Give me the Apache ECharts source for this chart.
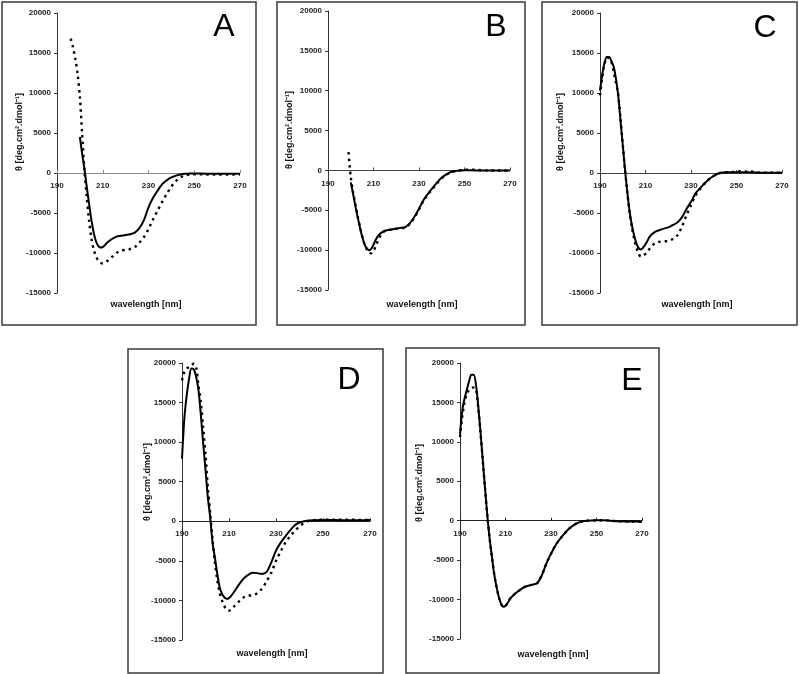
<!DOCTYPE html>
<html>
<head>
<meta charset="utf-8">
<script src="https://cdn.jsdelivr.net/npm/echarts@6/dist/echarts.min.js"></script>
<style>
html,body{margin:0;padding:0;background:#fff;}
#c{width:800px;height:674px;}
</style>
</head>
<body>
<div id="c"></div>
<script>
// ---- tick labels / axis ----
var xTicks = [190, 210, 230, 250, 270];
var yTicks = [-15000, -10000, -5000, 0, 5000, 10000, 15000, 20000];
var panelLetters = ['A', 'B', 'C', 'D', 'E'];
var yAxisTitle = 'θ [deg.cm².dmol⁻¹]';
var xAxisTitle = 'wavelength [nm]';

// ---- Panel A ----
var aSolidNm = [200,201,202,203,204,205,206,207,208,209,210,211,212,214,216,218,220,222,224,226,228,230,232,234,236,238,240,242,244,246,248,250,255,260,265,270];
var aSolid   = [4500,2400,500,-1700,-3800,-5800,-7400,-8500,-9100,-9300,-9250,-9000,-8700,-8250,-7950,-7850,-7750,-7650,-7450,-6900,-5900,-4300,-3100,-2200,-1400,-900,-550,-330,-180,-100,-60,-50,-80,-100,-100,-100];
var aDashNm  = [196,197,198,199,200,201,202,203,204,205,206,207,208,209,210,211,212,214,216,218,220,222,224,226,228,230,232,234,236,238,240,242,244,246,248,250,255,260,265,270];
var aDash    = [16800,15700,14300,12400,9500,4800,400,-3000,-5900,-8100,-9500,-10400,-10900,-11200,-11300,-11200,-11000,-10500,-10000,-9700,-9600,-9500,-9250,-8700,-8000,-7000,-5800,-4700,-3600,-2600,-1700,-1000,-550,-300,-200,-150,-180,-200,-200,-200];

// ---- Panel B ----
var bSolidNm = [200,201,202,203,204,205,206,207,208,209,210,211,212,214,216,218,220,222,224,226,228,230,232,234,236,238,240,242,244,246,248,250,255,260,265,270];
var bSolid   = [-1500,-2900,-4400,-5800,-7100,-8300,-9200,-9750,-10000,-9850,-9300,-8700,-8200,-7700,-7500,-7400,-7300,-7200,-7100,-6600,-5800,-4800,-3700,-2900,-2200,-1500,-900,-500,-200,-80,0,30,0,0,0,0];
var bDashNm  = [199,200,201,202,203,204,205,206,207,208,209,210,211,212,214,216,218,220,222,224,226,228,230,232,234,236,238,240,242,244,246,248,250,252,255,260,265,270];
var bDash    = [2300,-800,-2700,-4200,-5700,-7000,-8200,-9200,-9900,-10300,-10400,-10100,-9500,-8800,-7800,-7500,-7400,-7300,-7250,-7150,-6700,-5900,-4900,-3800,-3000,-2300,-1600,-1000,-550,-250,-80,20,100,100,80,0,0,0];

// ---- Panel C ----
var cSolidNm = [190,191,192,193,194,195,196,197,198,199,200,201,202,203,204,205,206,207,208,209,210,211,212,214,216,218,220,222,224,226,228,230,232,234,236,238,240,242,244,246,250,255,260,265,270];
var cSolid   = [10300,12300,13800,14500,14500,14000,13300,11800,9700,6600,3500,400,-2400,-4800,-6500,-7800,-8800,-9400,-9550,-9300,-8900,-8400,-7900,-7400,-7150,-6950,-6800,-6500,-6200,-5550,-4500,-3600,-2550,-1900,-1300,-750,-350,-60,70,90,100,80,50,30,30];
var cDashNm  = [190,191,192,193,194,195,196,197,198,199,200,201,202,203,204,205,206,207,208,209,210,211,212,214,216,218,220,222,224,226,228,230,232,234,236,238,240,242,244,246,250,252,255,256,260,265,270];
var cDash    = [9700,12000,13600,14400,14400,13900,12600,11300,9800,6800,3600,400,-2400,-4900,-6800,-8200,-9300,-10100,-10450,-10300,-10100,-9800,-9400,-8800,-8600,-8550,-8500,-8250,-7800,-6700,-5300,-4000,-2800,-2000,-1300,-750,-350,-60,70,100,150,250,150,200,50,30,30];

// ---- Panel D ----
var dSolidNm = [190,191,192,193,194,195,196,197,198,199,200,201,202,203,204,205,206,207,208,209,210,211,212,214,216,218,220,222,224,226,228,230,232,234,236,238,240,242,244,246,250,255,260,265,270];
var dSolid   = [7900,13000,15900,18000,19300,19200,18300,16600,13500,9900,6500,3000,500,-2700,-4600,-6600,-8300,-9150,-9600,-9790,-9700,-9400,-9000,-8100,-7300,-6800,-6500,-6550,-6650,-6400,-5200,-3700,-2700,-1900,-1150,-500,-150,0,100,130,150,150,120,120,150];
var dDashNm  = [190,191,192,193,194,195,196,197,198,199,200,201,202,203,204,205,206,207,208,209,210,211,212,214,216,218,220,222,224,226,228,230,232,234,236,238,240,242,244,246,250,255,260,265,270];
var dDash    = [17800,18900,19300,19500,19700,19900,19500,17200,15000,11900,8400,4300,1000,-2300,-5200,-7400,-9000,-10000,-10700,-11200,-11300,-11100,-10800,-10200,-9650,-9400,-9350,-9100,-8500,-7600,-6500,-5000,-3800,-2700,-1900,-1200,-650,-200,50,150,200,200,200,180,150];

// ---- Panel E ----
var eSolidNm = [190,191,192,193,194,195,196,197,198,199,200,201,202,203,204,205,206,207,208,209,210,211,212,214,216,218,220,222,224,226,228,230,232,234,236,238,240,242,244,246,250,253,256,260,265,270];
var eSolid   = [10900,14000,15500,16600,17700,18500,18500,17300,14600,11300,7700,4100,700,-2200,-4500,-6700,-8300,-9600,-10500,-10900,-10800,-10400,-9900,-9300,-8850,-8450,-8250,-8100,-7900,-6900,-5400,-4200,-3100,-2300,-1600,-1000,-550,-250,-60,0,50,60,0,-80,-100,-120];
var eDashNm  = [190,191,192,193,194,195,196,197,198,199,200,201,202,203,204,205,206,207,208,209,210,211,212,214,216,218,220,222,224,226,228,230,232,234,236,238,240,242,244,246,250,253,256,260,265,270];
var eDash    = [10600,13200,15000,16100,16600,16800,16900,16700,14300,11200,7700,4100,700,-2200,-4500,-6700,-8300,-9600,-10500,-10900,-10800,-10400,-9900,-9300,-8850,-8450,-8250,-8100,-7900,-6900,-5400,-4200,-3100,-2300,-1600,-1000,-550,-250,-60,0,50,60,0,-80,-100,-120];

function zip(xs, ys) { return xs.map(function (x, i) { return [x, ys[i]]; }); }

var panels = [
  {solid: zip(aSolidNm, aSolid), dash: zip(aDashNm, aDash),
   grid: {left: 57, top: 13, width: 183, height: 280},
   box: [2, 2, 254, 323], letter: [224, 27], yName: [20, 132], xName: [146, 305], xc: '#8a8a8a'},
  {solid: zip(bSolidNm, bSolid), dash: zip(bDashNm, bDash),
   grid: {left: 328, top: 11, width: 182, height: 279},
   box: [277, 2, 248, 323], letter: [496, 27], yName: [290, 130], xName: [422, 305], xc: '#444'},
  {solid: zip(cSolidNm, cSolid), dash: zip(cDashNm, cDash),
   grid: {left: 600, top: 13, width: 182, height: 280},
   box: [542, 2, 255, 323], letter: [765, 28], yName: [561, 132], xName: [697, 305], xc: '#444'},
  {solid: zip(dSolidNm, dSolid), dash: zip(dDashNm, dDash),
   grid: {left: 182, top: 363, width: 188, height: 277},
   box: [128, 349, 255, 324], letter: [349, 380], yName: [148, 482], xName: [272, 654], xc: '#222'},
  {solid: zip(eSolidNm, eSolid), dash: zip(eDashNm, eDash),
   grid: {left: 460, top: 363, width: 182, height: 276},
   box: [406, 348, 253, 325], letter: [632, 381], yName: [420, 483], xName: [553, 655], xc: '#222'}
];

var FONT = '"Liberation Sans", Arial, sans-serif';
var yMin = yTicks[0], yMax = yTicks[yTicks.length - 1];
var grids = [], xAxes = [], yAxes = [], series = [], graphics = [];

panels.forEach(function (p, i) {
  grids.push({left: p.grid.left, top: p.grid.top, width: p.grid.width, height: p.grid.height, containLabel: false});
  // place the x axis on the zero line (offset upward from grid bottom)
  var zeroOffset = -p.grid.height * (0 - yMin) / (yMax - yMin);
  xAxes.push({
    type: 'value', gridIndex: i, min: xTicks[0], max: xTicks[xTicks.length - 1], interval: xTicks[1] - xTicks[0],
    position: 'bottom', offset: zeroOffset,
    axisLine: {onZero: false, lineStyle: {color: p.xc, width: 1}},
    axisTick: {show: true, inside: true, length: 3, lineStyle: {color: p.xc}},
    axisLabel: {fontSize: 8, fontWeight: 'bold', color: '#222', margin: 9, fontFamily: FONT},
    splitLine: {show: false}
  });
  yAxes.push({
    type: 'value', gridIndex: i, min: yMin, max: yMax, interval: yTicks[1] - yTicks[0],
    axisLine: {show: true, onZero: false, lineStyle: {color: '#333', width: 1}},
    axisTick: {show: true, length: 3, lineStyle: {color: '#333'}},
    axisLabel: {fontSize: 8, fontWeight: 'bold', color: '#222', margin: 6, fontFamily: FONT,
      formatter: function (v) { return String(v); }},
    splitLine: {show: false}
  });
  series.push({
    type: 'line', xAxisIndex: i, yAxisIndex: i, data: p.dash, showSymbol: false, smooth: 0.3,
    lineStyle: {color: '#000', width: 2.4, type: [2.5, 4]}, z: 2
  });
  series.push({
    type: 'line', xAxisIndex: i, yAxisIndex: i, data: p.solid, showSymbol: false, smooth: 0.3,
    lineStyle: {color: '#000', width: 2}, z: 3
  });
  graphics.push({
    type: 'rect', shape: {x: p.box[0], y: p.box[1], width: p.box[2], height: p.box[3]},
    style: {fill: 'none', stroke: '#3a3a3a', lineWidth: 1.5}, z: 10
  });
  graphics.push({
    type: 'text', x: p.letter[0], y: p.letter[1],
    style: {text: panelLetters[i], font: '32px ' + FONT, fill: '#000', align: 'center', verticalAlign: 'middle'}, z: 10
  });
  graphics.push({
    type: 'text', x: p.yName[0], y: p.yName[1], rotation: Math.PI / 2,
    style: {text: yAxisTitle, font: 'bold 9px ' + FONT, fill: '#111', align: 'center', verticalAlign: 'middle'}, z: 10
  });
  graphics.push({
    type: 'text', x: p.xName[0], y: p.xName[1],
    style: {text: xAxisTitle, font: 'bold 9px ' + FONT, fill: '#111', align: 'center', verticalAlign: 'middle'}, z: 10
  });
});

var chart = echarts.init(document.getElementById('c'), null, {renderer: 'canvas'});
chart.setOption({
  animation: false,
  backgroundColor: '#fff',
  grid: grids,
  xAxis: xAxes,
  yAxis: yAxes,
  series: series,
  graphic: graphics
});
</script>
</body>
</html>
